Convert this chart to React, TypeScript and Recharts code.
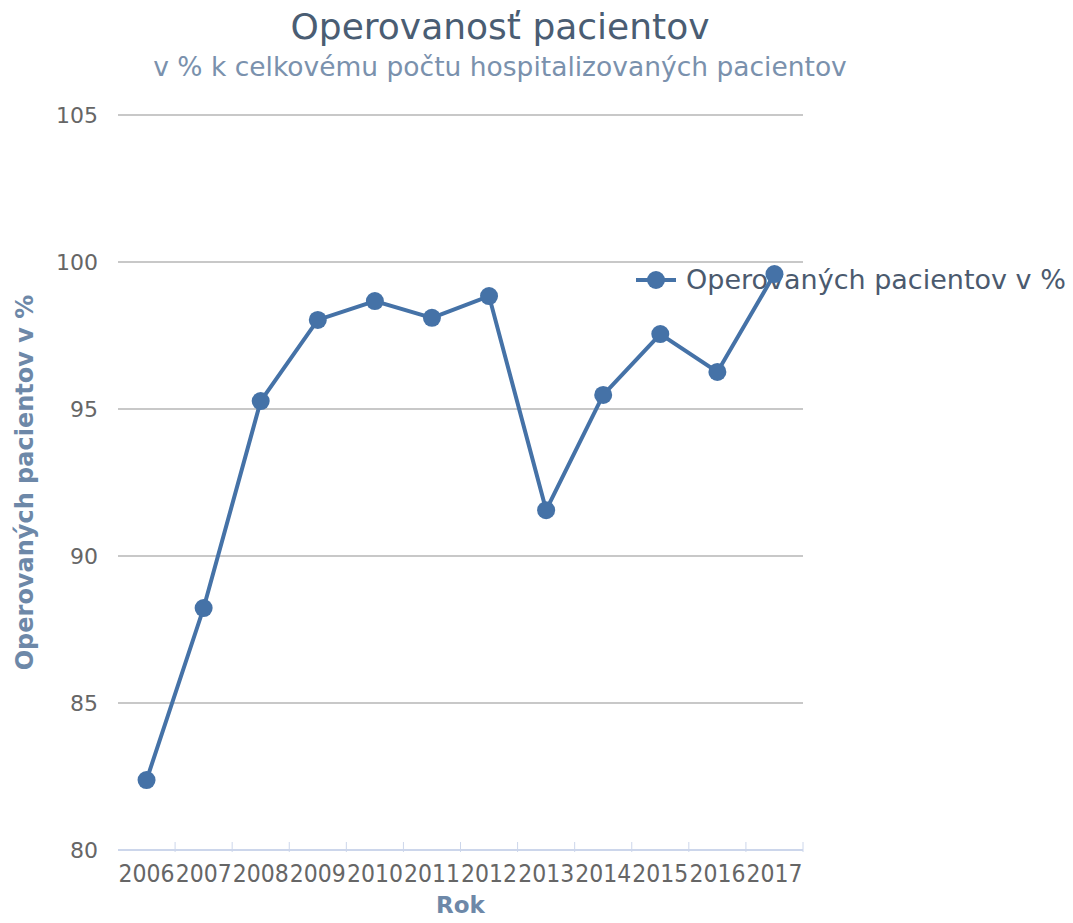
import { CartesianGrid, Line, LineChart, XAxis, YAxis } from 'recharts';

const years = ['2006', '2007', '2008', '2009', '2010', '2011', '2012', '2013', '2014', '2015', '2016', '2017'];
const operated = [82.38, 88.23, 95.27, 98.03, 98.67, 98.1, 98.84, 91.56, 95.48, 97.55, 96.26, 99.59];
const yTicks = [80, 85, 90, 95, 100, 105];
const seriesName = 'Operovaných pacientov v %';

const chartData = years.map((year, i) => ({ year, value: operated[i] }));

const LINE = '#4572a7';
const FONT = '"DejaVu Sans", sans-serif';

function YearTick(props: any) {
  const { x, y, payload } = props;
  const half = payload.offset ?? 0;
  return (
    <g>
      <line x1={x + half} y1={y - 10} x2={x + half} y2={y} stroke="#ccd6eb" strokeWidth={1} />
      <text
        x={x}
        y={y + 30}
        textAnchor="middle"
        fill="#666"
        fontSize={24}
        fontFamily={FONT}
        textLength={56}
        lengthAdjust="spacingAndGlyphs"
      >
        {payload.value}
      </text>
    </g>
  );
}

export default function App() {
  return (
    <div style={{ position: 'absolute', left: 0, top: 0, width: 1073, height: 923, background: '#fff' }}>
      <div
        style={{
          position: 'absolute',
          top: 6,
          width: 1000,
          textAlign: 'center',
          fontFamily: FONT,
          fontSize: 36,
          color: '#4a5d73',
        }}
      >
        Operovanosť pacientov
      </div>
      <div
        style={{
          position: 'absolute',
          top: 51,
          width: 1000,
          textAlign: 'center',
          fontFamily: FONT,
          fontSize: 26.5,
          color: '#7a91ad',
        }}
      >
        v % k celkovému počtu hospitalizovaných pacientov
      </div>
      <div
        style={{
          position: 'absolute',
          left: 636,
          top: 264,
          display: 'flex',
          alignItems: 'center',
          fontFamily: FONT,
          whiteSpace: 'nowrap',
        }}
      >
        <svg width={40} height={20}>
          <line x1={0} y1={10} x2={40} y2={10} stroke={LINE} strokeWidth={4} />
          <circle cx={20} cy={10} r={9} fill={LINE} />
        </svg>
        <span style={{ marginLeft: 10, fontSize: 27, color: '#4b5a6e' }}>{seriesName}</span>
      </div>
      <LineChart
        width={1073}
        height={923}
        data={chartData}
        margin={{ top: 115, right: 270, left: 0, bottom: 0 }}
        style={{ position: 'absolute', left: 0, top: 0 }}
      >
        <CartesianGrid vertical={false} stroke="#c8c8c8" strokeWidth={2} />
        <XAxis
          dataKey="year"
          scale="band"
          height={73}
          interval={0}
          axisLine={{ stroke: '#ccd6eb', strokeWidth: 2 }}
          tickLine={false}
          tickSize={0}
          tick={<YearTick />}
          label={{
            value: 'Rok',
            position: 'insideBottom',
            offset: 10,
            fill: '#6d88a8',
            fontSize: 23,
            fontWeight: 'bold',
            fontFamily: FONT,
          }}
        />
        <YAxis
          width={118}
          domain={[80, 105]}
          ticks={yTicks}
          axisLine={false}
          tickLine={false}
          tickSize={0}
          tickMargin={20}
          tick={{ fill: '#666', fontSize: 22, fontFamily: FONT }}
          label={{
            value: seriesName,
            angle: -90,
            position: 'center',
            dx: -35,
            fill: '#6d88a8',
            fontSize: 24,
            fontWeight: 'bold',
            fontFamily: FONT,
          }}
        />
        <Line
          dataKey="value"
          name={seriesName}
          stroke={LINE}
          strokeWidth={4}
          dot={{ r: 9, fill: LINE, stroke: LINE, strokeWidth: 0 }}
          isAnimationActive={false}
        />
      </LineChart>
    </div>
  );
}
